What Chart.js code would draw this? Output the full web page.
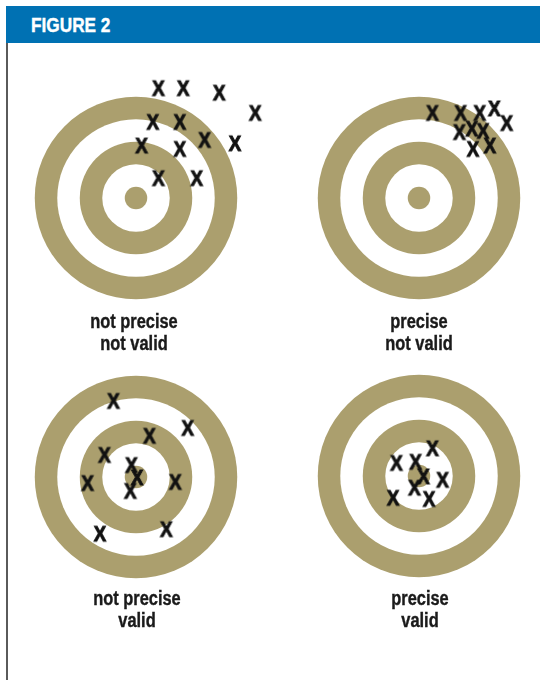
<!DOCTYPE html>
<html>
<head>
<meta charset="utf-8">
<script src="https://cdn.jsdelivr.net/npm/chart.js@4/dist/chart.umd.min.js"></script>
<style>
  html, body { margin: 0; padding: 0; background: #fff; width: 540px; height: 680px; overflow: hidden; }
  body { position: relative; font-family: "Liberation Sans", Arial, sans-serif; }
  .header { position: absolute; left: 6px; top: 6px; width: 534px; height: 37px; background: #0071b3; }
  .header span { position: absolute; left: 25px; top: 0; color: #fff; font-weight: bold; font-size: 21px; line-height: 38px;
                 transform: scaleX(0.82); transform-origin: 0 50%; -webkit-text-stroke: 0.4px #fff; white-space: nowrap; }
  .rule { position: absolute; left: 6px; top: 43px; width: 2px; height: 637px; background: #5a5a5a; }
  canvas { position: absolute; }
  .label { position: absolute; width: 200px; text-align: center; font-weight: bold; font-size: 20px; line-height: 22px; color: #1a1a1a;
           transform: scaleX(0.82); transform-origin: 50% 0; -webkit-text-stroke: 0.4px #1a1a1a; }
</style>
</head>
<body>
<div class="header"><span>FIGURE 2</span></div>
<div class="rule"></div>

<canvas id="t1" width="270" height="270" style="left:1px;top:63px"></canvas>
<canvas id="t2" width="270" height="270" style="left:284px;top:63px"></canvas>
<canvas id="t3" width="270" height="270" style="left:1px;top:342px"></canvas>
<canvas id="t4" width="270" height="270" style="left:284px;top:341px"></canvas>

<div class="label" id="l1" style="left:34px;top:310px"></div>
<div class="label" id="l2" style="left:319px;top:310px"></div>
<div class="label" id="l3" style="left:37px;top:587px"></div>
<div class="label" id="l4" style="left:320px;top:587px"></div>

<script>
// ring radii of each target, in target units (outer band to centre dot)
const ringRadii = [9, 7, 5, 3, 1];

// hit positions relative to the target centre, in target units
const notPreciseNotValid = [
  {x: 2.0, y: 9.8}, {x: 4.2, y: 9.8}, {x: 7.4, y: 9.4}, {x: 10.6, y: 7.6},
  {x: 1.5, y: 6.8}, {x: 3.9, y: 6.8}, {x: 0.5, y: 4.7}, {x: 3.9, y: 4.4},
  {x: 6.1, y: 5.2}, {x: 8.8, y: 4.9}, {x: 2.0, y: 1.8}, {x: 5.4, y: 1.8}
];
const preciseNotValid = [
  {x: 1.2, y: 7.6}, {x: 3.7, y: 7.6}, {x: 5.4, y: 7.6}, {x: 6.7, y: 8.0},
  {x: 7.8, y: 6.7}, {x: 3.6, y: 5.9}, {x: 4.7, y: 6.2}, {x: 5.7, y: 6.0},
  {x: 4.8, y: 4.4}, {x: 6.3, y: 4.7}
];
const notPreciseValid = [
  {x: -2.0, y: 6.8}, {x: 4.6, y: 4.4}, {x: 1.2, y: 3.7}, {x: -2.8, y: 2.0},
  {x: -4.3, y: -0.5}, {x: -0.4, y: 1.1}, {x: 0.1, y: 0.0}, {x: -0.5, y: -1.2},
  {x: 3.5, y: -0.4}, {x: -3.2, y: -5.0}, {x: 2.7, y: -4.6}
];
const preciseValid = [
  {x: 1.2, y: 2.5}, {x: -2.0, y: 1.2}, {x: -0.3, y: 1.3}, {x: 0.4, y: 0.0},
  {x: 2.1, y: -0.3}, {x: -0.4, y: -1.0}, {x: -2.3, y: -1.9}, {x: 0.9, y: -2.0}
];

const labels = [
  ["not precise", "not valid"],
  ["precise", "not valid"],
  ["not precise", "valid"],
  ["precise", "valid"]
];

const TAN = "#ab9f6e";

// bold condensed "X" glyph used as the point style
function makeMark() {
  const c = document.createElement("canvas");
  c.width = 18; c.height = 22;
  const g = c.getContext("2d");
  g.fillStyle = "#111";
  g.strokeStyle = "#111";
  g.lineWidth = 1;
  g.font = 'bold 22px "Liberation Sans", Arial, sans-serif';
  g.textAlign = "center";
  const m = g.measureText("X");
  const h = m.actualBoundingBoxAscent + m.actualBoundingBoxDescent;
  g.translate(9, 0);
  g.scale(0.85, 1);
  const base = 11 + h / 2 - m.actualBoundingBoxDescent;
  g.fillText("X", 0, base);
  g.strokeText("X", 0, base);
  return c;
}
const mark = makeMark();

const ringsPlugin = {
  id: "rings",
  beforeDatasetsDraw(chart) {
    const {x, y} = chart.scales;
    const ctx = chart.ctx;
    const cx = x.getPixelForValue(0);
    const cy = y.getPixelForValue(0);
    const unit = x.getPixelForValue(1) - cx;
    ctx.save();
    ringRadii.forEach((r, i) => {
      ctx.beginPath();
      ctx.arc(cx, cy, r * unit, 0, Math.PI * 2);
      ctx.fillStyle = i % 2 === 0 ? TAN : "#ffffff";
      ctx.fill();
    });
    ctx.restore();
  }
};

function drawTarget(id, points) {
  const ctx = document.getElementById(id).getContext("2d");
  new Chart(ctx, {
    type: "scatter",
    data: {
      datasets: [{
        data: points,
        pointStyle: mark,
        pointRadius: 7,
        pointHoverRadius: 7
      }]
    },
    options: {
      responsive: false,
      animation: false,
      layout: { padding: 0, autoPadding: false },
      plugins: { legend: { display: false }, tooltip: { enabled: false } },
      scales: {
        x: { type: "linear", min: -12, max: 12, display: false },
        y: { type: "linear", min: -12, max: 12, display: false }
      }
    },
    plugins: [ringsPlugin]
  });
}

drawTarget("t1", notPreciseNotValid);
drawTarget("t2", preciseNotValid);
drawTarget("t3", notPreciseValid);
drawTarget("t4", preciseValid);

labels.forEach((lines, i) => {
  document.getElementById("l" + (i + 1)).innerHTML = lines.join("<br>");
});
</script>
</body>
</html>
